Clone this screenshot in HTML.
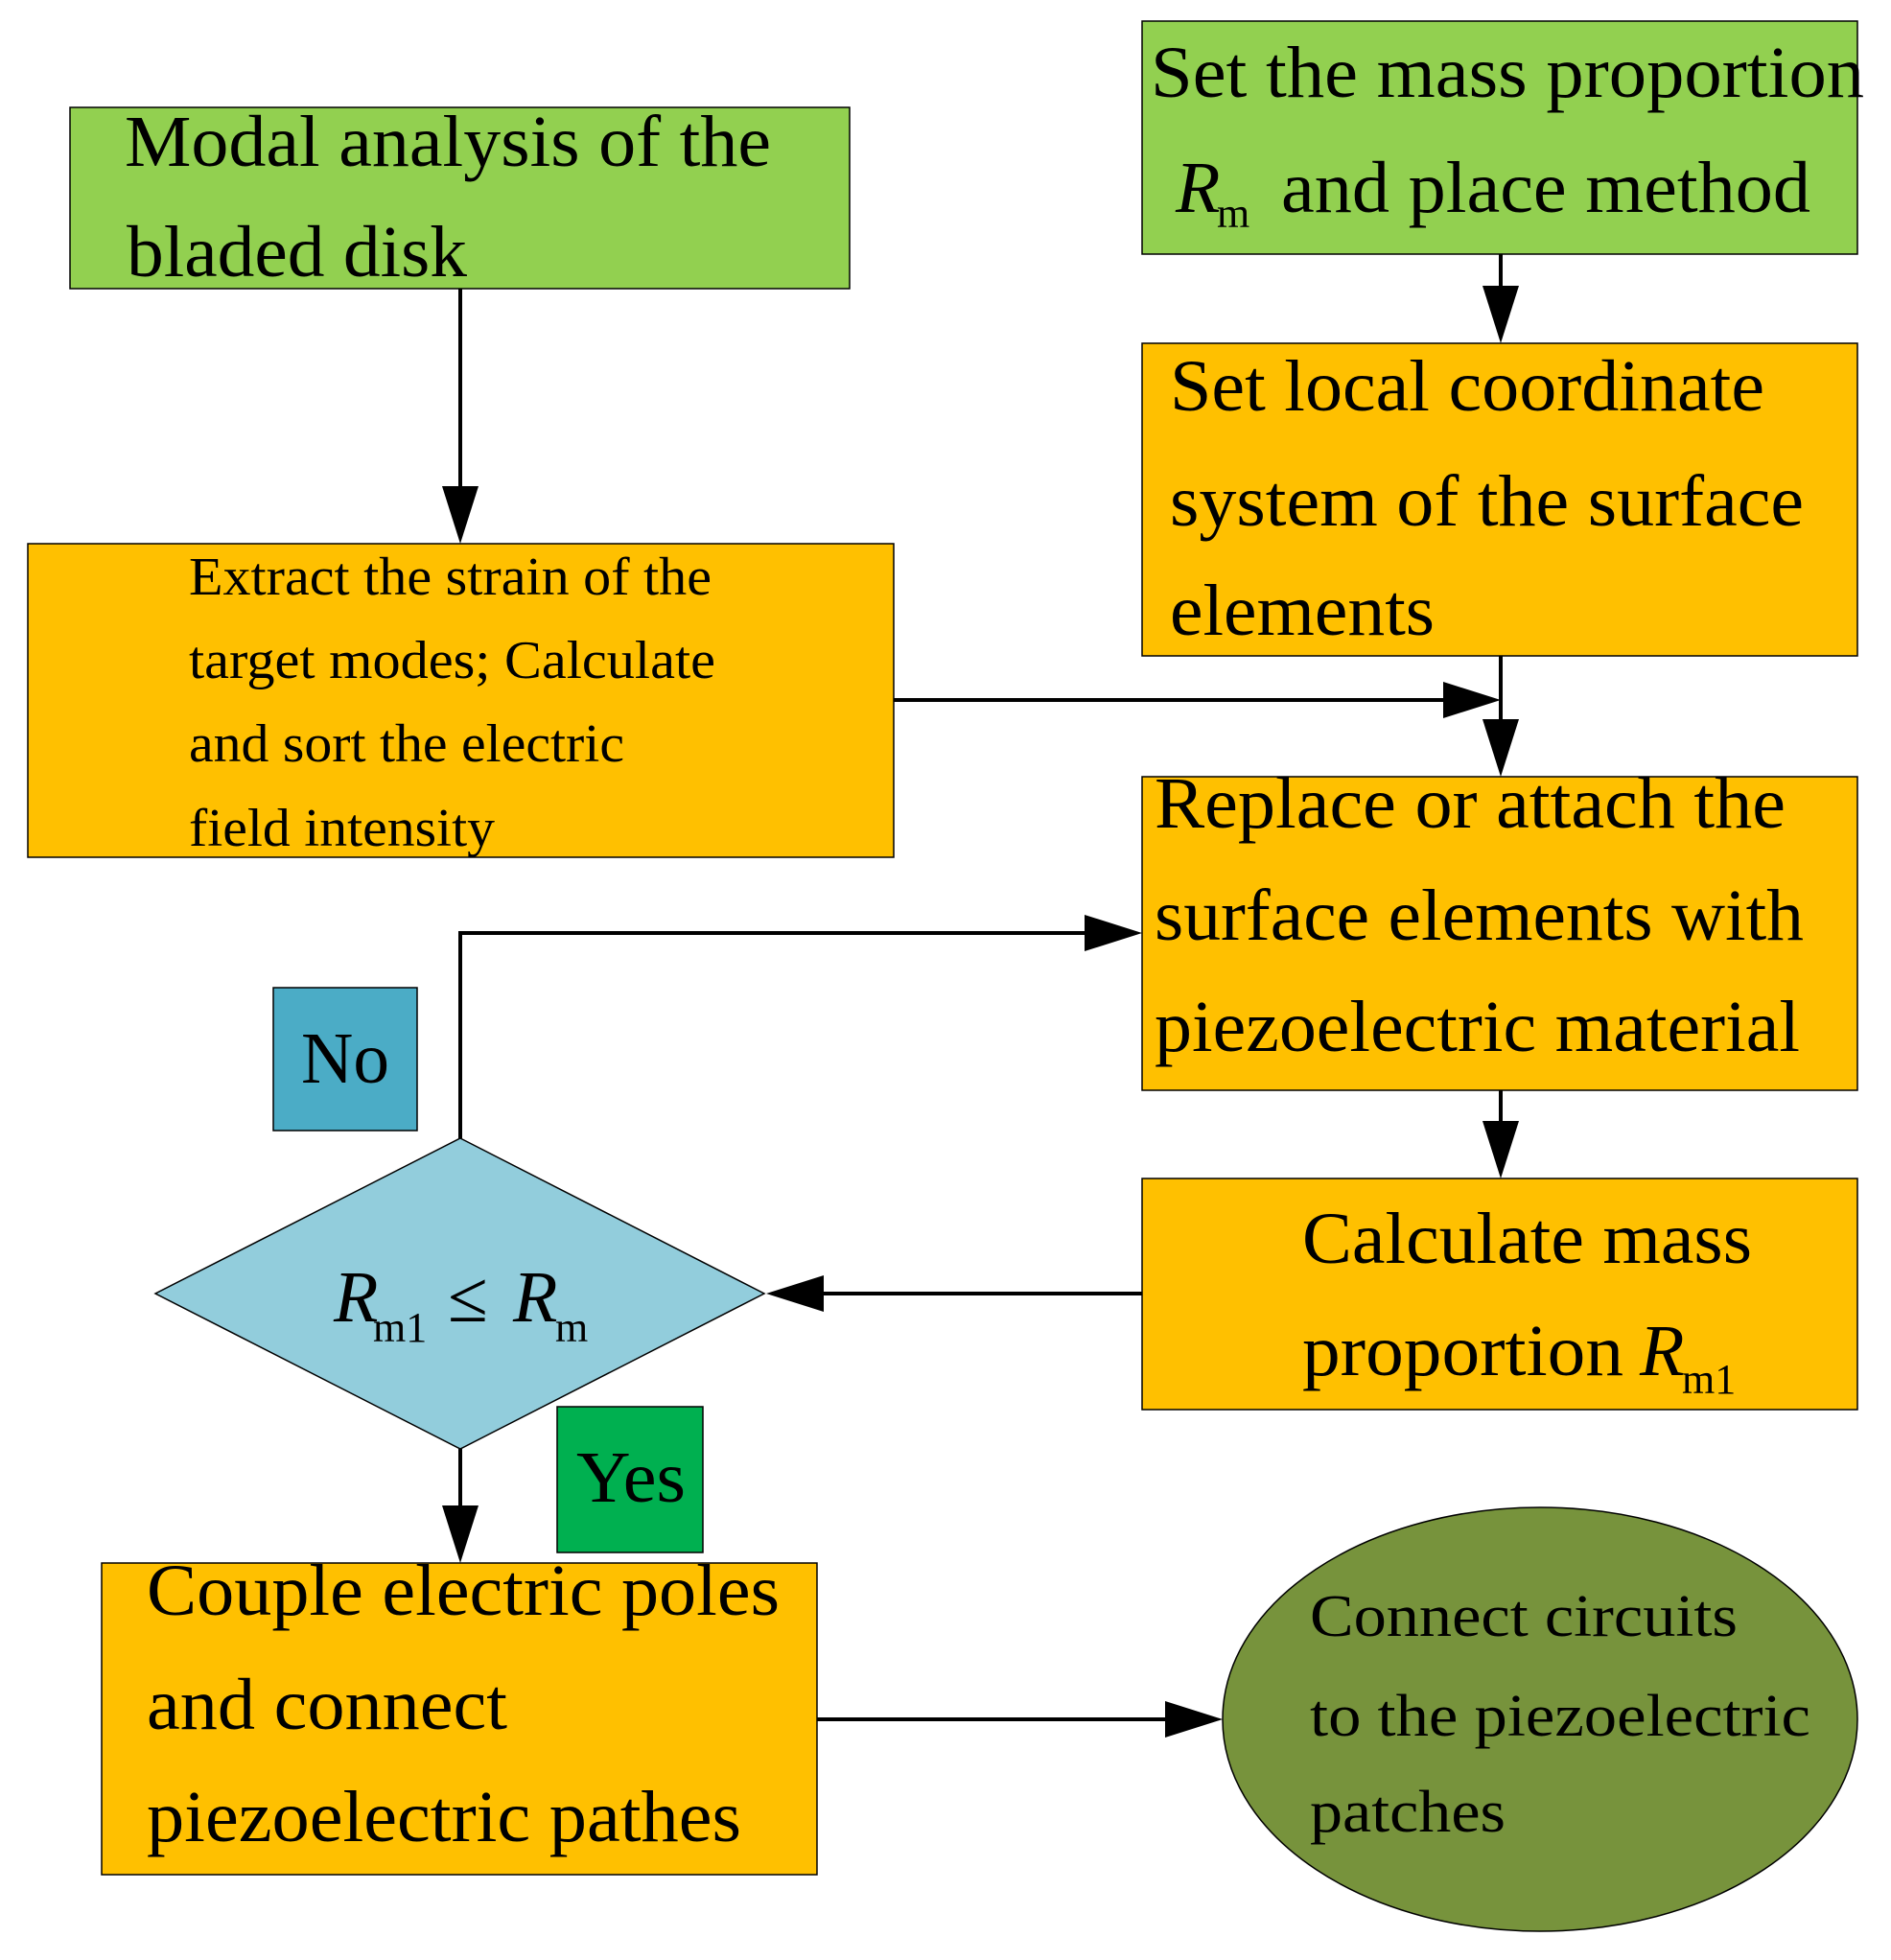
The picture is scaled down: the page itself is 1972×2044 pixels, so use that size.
<!DOCTYPE html>
<html><head><meta charset="utf-8"><style>html,body{margin:0;padding:0;background:#fff}svg{display:block}</style></head>
<body>
<svg width="1972" height="2044" viewBox="0 0 1972 2044" xmlns="http://www.w3.org/2000/svg" font-family="'Liberation Serif', serif" fill="#000">
<defs>
<marker id="a" markerWidth="16" markerHeight="10" refX="15" refY="5" orient="auto" markerUnits="userSpaceOnUse" viewBox="0 0 16 10">
</marker>
</defs>
<g stroke="#000" stroke-width="1.5">
<rect x="73" y="112" width="813" height="189" fill="#92d050"/>
<rect x="1191" y="22" width="746" height="243" fill="#92d050"/>
<rect x="1191" y="358" width="746" height="326" fill="#ffc000"/>
<rect x="29" y="567" width="903" height="327" fill="#ffc000"/>
<rect x="1191" y="810" width="746" height="327" fill="#ffc000"/>
<rect x="285" y="1030" width="150" height="149" fill="#4bacc6"/>
<polygon points="480,1187 797,1349 480,1511 162,1349" fill="#92cddc"/>
<rect x="1191" y="1229" width="746" height="241" fill="#ffc000"/>
<rect x="581" y="1467" width="152" height="152" fill="#00b050"/>
<rect x="106" y="1630" width="746" height="325" fill="#ffc000"/>
<ellipse cx="1606" cy="1793" rx="331" ry="221" fill="#77933c"/>
</g>
<g stroke="#000" stroke-width="4" fill="none">
<path d="M480 301 V510"/>
<path d="M1565 265 V300"/>
<path d="M1565 684 V752"/>
<path d="M932 730 H1508"/>
<path d="M480 1187 V973 H1134"/>
<path d="M1565 1137 V1171"/>
<path d="M1191 1349 H857"/>
<path d="M480 1511 V1572"/>
<path d="M852 1793 H1217"/>
</g>
<g stroke="none">
<polygon points="461,507 499,507 480,567"/>
<polygon points="1546,298 1584,298 1565,358"/>
<polygon points="1546,750 1584,750 1565,810"/>
<polygon points="1505,711 1505,749 1565,730"/>
<polygon points="1131,954 1131,992 1191,973"/>
<polygon points="1546,1169 1584,1169 1565,1229"/>
<polygon points="859,1330 859,1368 799,1349"/>
<polygon points="461,1570 499,1570 480,1630"/>
<polygon points="1215,1774 1215,1812 1275,1793"/>
</g>
<g font-size="76">
<text x="130" y="173" textLength="674" lengthAdjust="spacingAndGlyphs">Modal analysis of the</text>
<text x="132" y="288" textLength="355" lengthAdjust="spacingAndGlyphs">bladed disk</text>
<text x="1200" y="101" textLength="744" lengthAdjust="spacingAndGlyphs">Set the mass proportion</text>
<text x="1226" y="221" font-style="italic">R</text>
<text x="1269" y="237" font-size="44">m</text>
<text x="1336" y="221" textLength="552" lengthAdjust="spacingAndGlyphs">and place method</text>
<text x="1220" y="428" textLength="620" lengthAdjust="spacingAndGlyphs">Set local coordinate</text>
<text x="1220" y="548" textLength="661" lengthAdjust="spacingAndGlyphs">system of the surface</text>
<text x="1220" y="662" textLength="276" lengthAdjust="spacingAndGlyphs">elements</text>
<text x="1204" y="863" textLength="658" lengthAdjust="spacingAndGlyphs">Replace or attach the</text>
<text x="1204" y="980" textLength="677" lengthAdjust="spacingAndGlyphs">surface elements with</text>
<text x="1204" y="1096" textLength="673" lengthAdjust="spacingAndGlyphs">piezoelectric material</text>
<text x="314" y="1129" textLength="92" lengthAdjust="spacingAndGlyphs">No</text>
<text x="348" y="1378" font-style="italic">R</text>
<text x="389" y="1399" font-size="44">m1</text>
<text x="467" y="1378">≤</text>
<text x="535" y="1378" font-style="italic">R</text>
<text x="579" y="1399" font-size="44">m</text>
<text x="1358" y="1317" textLength="469" lengthAdjust="spacingAndGlyphs">Calculate mass</text>
<text x="1358" y="1434" textLength="335" lengthAdjust="spacingAndGlyphs">proportion</text>
<text x="1710" y="1434" font-style="italic">R</text>
<text x="1754" y="1453" font-size="44">m1</text>
<text x="601" y="1566" textLength="114" lengthAdjust="spacingAndGlyphs">Yes</text>
<text x="153" y="1684" textLength="660" lengthAdjust="spacingAndGlyphs">Couple electric poles</text>
<text x="153" y="1803" textLength="376" lengthAdjust="spacingAndGlyphs">and connect</text>
<text x="153" y="1920" textLength="620" lengthAdjust="spacingAndGlyphs">piezoelectric pathes</text>
</g>
<g font-size="56">
<text x="197" y="620" textLength="545" lengthAdjust="spacingAndGlyphs">Extract the strain of the</text>
<text x="197" y="707" textLength="549" lengthAdjust="spacingAndGlyphs">target modes; Calculate</text>
<text x="197" y="794" textLength="454" lengthAdjust="spacingAndGlyphs">and sort the electric</text>
<text x="197" y="882" textLength="319" lengthAdjust="spacingAndGlyphs">field intensity</text>
</g>
<g font-size="62">
<text x="1366" y="1706" textLength="446" lengthAdjust="spacingAndGlyphs">Connect circuits</text>
<text x="1366" y="1810" textLength="522" lengthAdjust="spacingAndGlyphs">to the piezoelectric</text>
<text x="1366" y="1910" textLength="204" lengthAdjust="spacingAndGlyphs">patches</text>
</g>
</svg>
</body></html>
